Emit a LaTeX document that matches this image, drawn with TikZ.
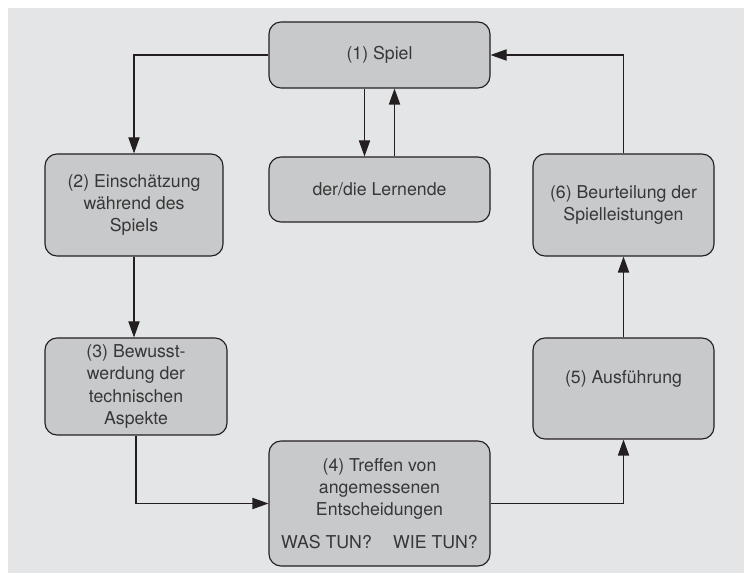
\documentclass[tikz,border=0pt]{standalone}
\usepackage{fontspec}
\setmainfont{TeX Gyre Heros}
\usetikzlibrary{arrows.meta}
\definecolor{mback}{RGB}{228, 229, 231}
\definecolor{mbox}{RGB}{200, 201, 203}
\definecolor{mline}{RGB}{35, 31, 32}
\definecolor{mtext}{RGB}{55, 55, 55}
\tikzset{stage/.style = {draw=mline, fill=mbox, line width=0.8pt,
                         rounded corners=0.3cm, align=center, inner sep=0pt,
                         text=mtext, font=\fontsize{12.6}{15.8}\selectfont},
         flow/.style = {draw=mline, line width=0.8pt,
                        -{Triangle[length=0.4cm, width=0.28cm]}}}

\begin{document}
\begin{tikzpicture}
      \useasboundingbox (0, 0) rectangle (18.6, 14.325);
      \fill [white] (0, 0) rectangle (18.6, 14.325);
      \fill [mback] (0.2, 0) rectangle (18.6, 14.125);

      \node [stage, minimum width=5.525cm, minimum height=1.65cm] (spiel) at (9.4875, 12.95) {(1) Spiel};
      \node [stage, minimum width=5.525cm, minimum height=1.625cm] (lernende) at (9.4875, 9.5875) {der/die Lernende};
      \node [stage, minimum width=4.45cm, minimum height=2.55cm] (einschaetzung) at (3.35, 9.2) {(2) Einschätzung\\während des\\Spiels};
      \node [stage, minimum width=4.55cm, minimum height=2.425cm] (bewusst) at (3.4, 4.6625) {(3) Bewusst-\\werdung der\\technischen\\Aspekte};
      \node [stage, minimum width=5.525cm, minimum height=3.125cm] (treffen) at (9.4875, 1.7375) {(4) Treffen von\\angemessenen\\Entscheidungen\\[0.275cm]WAS TUN?\hspace{1.2em}WIE TUN?};
      \node [stage, minimum width=4.525cm, minimum height=2.525cm] (ausfuehrung) at (15.5875, 4.6125) {(5) Ausführung\\~};
      \node [stage, minimum width=4.525cm, minimum height=2.55cm] (beurteilung) at (15.5875, 9.2) {(6) Beurteilung der\\Spielleistungen};

      \draw [flow] (spiel.west) -| (einschaetzung.north);
      \draw [flow] (einschaetzung.south) -- (einschaetzung.south |- bewusst.north);
      \draw [flow] (bewusst.south) |- (treffen.west);
      \draw [flow] (treffen.east) -| (ausfuehrung.south);
      \draw [flow] (ausfuehrung.north) -- (beurteilung.south);
      \draw [flow] (beurteilung.north) |- (spiel.east);

      \draw [flow] ([xshift=-0.375cm]spiel.south) -- ([xshift=-0.375cm]lernende.north);
      \draw [flow] ([xshift=0.375cm]lernende.north) -- ([xshift=0.375cm]spiel.south);
    \end{tikzpicture}
\end{document}
